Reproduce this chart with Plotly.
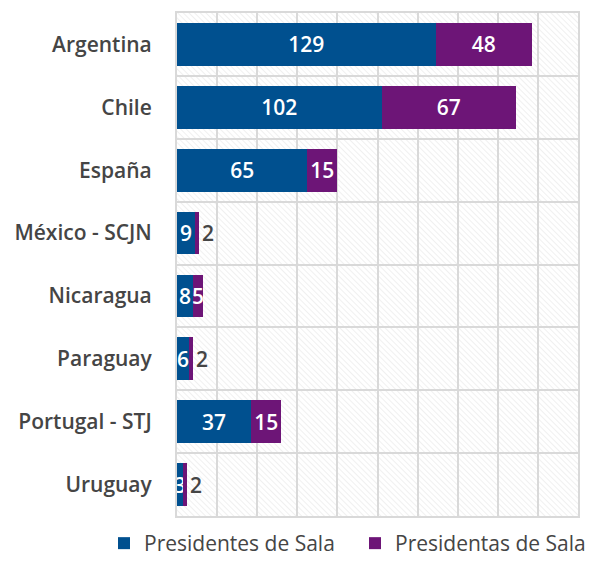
import base64
import plotly.graph_objects as go

paises = ["Argentina", "Chile", "España", "México - SCJN", "Nicaragua",
          "Paraguay", "Portugal - STJ", "Uruguay"]
presidentes = [129, 102, 65, 9, 8, 6, 37, 3]
presidentas = [48, 67, 15, 2, 5, 2, 15, 2]

AZUL = "#00508f"
MORADO = "#6d1577"
GRIS_TXT = "#454545"
GRID = "#d9d9d9"
FONT = "Open Sans"

W, H = 592, 564
ML, MR, MT, MB = 177, 14, 13, 48
PW, PH = W - ML - MR, H - MT - MB

# diagonal hatch background (decoration only)
svg = (
    f'<svg xmlns="http://www.w3.org/2000/svg" width="{PW}" height="{PH}" '
    f'viewBox="0 0 {PW} {PH}" preserveAspectRatio="none">'
    '<defs><pattern id="h" width="4" height="4" patternUnits="userSpaceOnUse" '
    'patternTransform="rotate(-45)">'
    '<line x1="0" y1="0" x2="0" y2="4" stroke="#e1e1e1" stroke-width="1"/>'
    '</pattern></defs>'
    '<rect width="100%" height="100%" fill="#ffffff"/>'
    '<rect width="100%" height="100%" fill="url(#h)"/></svg>'
)
src = "data:image/svg+xml;base64," + base64.b64encode(svg.encode()).decode()

pos_b = ["inside"] * len(presidentes)
pos_m = ["inside" if v >= 5 else "outside" for v in presidentas]

fig = go.Figure()
fig.add_trace(go.Bar(
    y=paises, x=presidentes, orientation="h", name="Presidentes de Sala",
    marker=dict(color=AZUL, line=dict(width=0)),
    text=[str(v) for v in presidentes], textposition=pos_b,
    insidetextanchor="middle", constraintext="none",
    textfont=dict(family=FONT, size=21, color="white", weight=600),
    width=0.68, hoverinfo="x+y", legend="legend",
))
fig.add_trace(go.Bar(
    y=paises, x=presidentas, orientation="h", name="Presidentas de Sala",
    marker=dict(color=MORADO, line=dict(width=0)),
    text=[str(v) for v in presidentas], textposition=pos_m,
    insidetextanchor="middle", constraintext="none",
    insidetextfont=dict(family=FONT, size=21, color="white", weight=600),
    outsidetextfont=dict(family=FONT, size=21, color=GRIS_TXT, weight=600),
    width=0.68, hoverinfo="x+y", legend="legend2",
))

leg_common = dict(orientation="h", xref="container", yref="container",
                  xanchor="left", y=0, yanchor="bottom",
                  bgcolor="rgba(0,0,0,0)",
                  font=dict(family=FONT, size=21, color=GRIS_TXT, weight=500))

fig.update_layout(
    width=W, height=H,
    margin=dict(l=ML, r=MR, t=MT, b=MB, autoexpand=False),
    barmode="stack",
    paper_bgcolor="white", plot_bgcolor="white",
    font=dict(family=FONT, size=20, color=GRIS_TXT),
    images=[dict(source=src, xref="paper", yref="paper", x=0, y=1,
                 sizex=1, sizey=1, xanchor="left", yanchor="top",
                 sizing="stretch", layer="below")],
    xaxis=dict(range=[0, 200], dtick=20, showticklabels=False,
               showgrid=True, gridcolor=GRID, gridwidth=2, zeroline=False,
               showline=True, linecolor=GRID, linewidth=2, mirror=True,
               ticks=""),
    yaxis=dict(autorange="reversed", tickson="boundaries", showgrid=True,
               gridcolor=GRID, gridwidth=2, showline=True, linecolor=GRID,
               linewidth=2, mirror=True, ticks="", ticklabelstandoff=19,
               tickfont=dict(family=FONT, size=21, color=GRIS_TXT, weight=600)),
    legend=dict(x=104 / W, **leg_common),
    legend2=dict(x=355 / W, **leg_common),
    showlegend=True,
)

fig.write_html(
    "out.html",
    config={"displayModeBar": False},
    post_script="document.body.style.margin='0';document.body.style.overflow='hidden';",
)
